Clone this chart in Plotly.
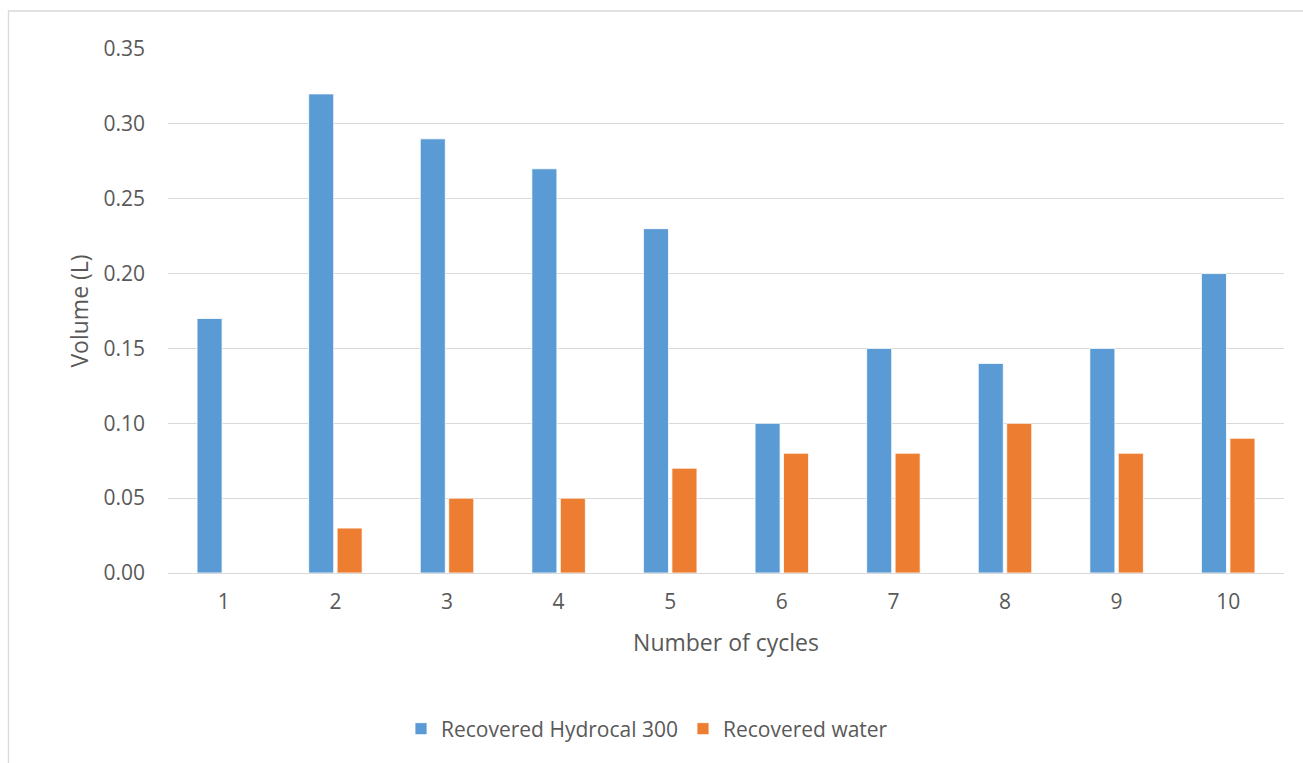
import plotly.graph_objects as go

# Data
cycles = ["1", "2", "3", "4", "5", "6", "7", "8", "9", "10"]
hydrocal = [0.17, 0.32, 0.29, 0.27, 0.23, 0.10, 0.15, 0.14, 0.15, 0.20]
water = [0.0, 0.03, 0.05, 0.05, 0.07, 0.08, 0.08, 0.10, 0.08, 0.09]
series_names = ["Recovered Hydrocal 300", "Recovered water"]
y_ticks = [0.00, 0.05, 0.10, 0.15, 0.20, 0.25, 0.30, 0.35]

W, H = 1303, 763
L, R, T, B = 168, 19, 49, 190
pw, ph = W - L - R, H - T - B

FONT = "Open Sans"
GREY = "#595959"
GRID = "#d9d9d9"

fig = go.Figure()
fig.add_trace(go.Bar(x=cycles, y=hydrocal, name=series_names[0],
                     marker=dict(color="#5B9BD5", line=dict(color="white", width=0.8))))
fig.add_trace(go.Bar(x=cycles, y=water, name=series_names[1],
                     marker=dict(color="#ED7D31", line=dict(color="white", width=0.8))))


def px_x(p):
    return (p - L) / pw


def px_y(p):
    return (H - B - p) / ph


fig.update_layout(
    width=W, height=H,
    margin=dict(l=L, r=R, t=T, b=B),
    paper_bgcolor="white", plot_bgcolor="white",
    font=dict(family=FONT, size=21, color=GREY),
    barmode="group", bargap=0.49, bargroupgap=0.12,
    showlegend=True,
    legend=dict(orientation="h", x=px_x(647), y=px_y(729), xanchor="center", yanchor="middle",
                font=dict(size=21, color=GREY), itemwidth=30, tracegroupgap=0,
                bgcolor="rgba(0,0,0,0)"),
    xaxis=dict(
        title=dict(text="Number of cycles", font=dict(size=23, color=GREY), standoff=20),
        showgrid=False, showline=False, ticks="", tickfont=dict(size=21, color=GREY),
        ticklabelstandoff=14,
    ),
    yaxis=dict(
        title=dict(text="Volume (L)", font=dict(size=23, color=GREY), standoff=8),
        range=[0, 0.35], tickvals=y_ticks, tickformat=".2f",
        showgrid=True, gridcolor=GRID, gridwidth=1.3,
        zeroline=True, zerolinecolor=GRID, zerolinewidth=1.3,
        showline=False, ticks="", tickfont=dict(size=21, color=GREY),
        ticklabelstandoff=22,
    ),
    shapes=[dict(type="rect", xref="paper", yref="paper",
                 x0=px_x(8.5), x1=px_x(1310), y0=px_y(770), y1=px_y(11),
                 line=dict(color=GRID, width=1.3), fillcolor="rgba(0,0,0,0)", layer="below")],
)

fig.write_html("out.html")
